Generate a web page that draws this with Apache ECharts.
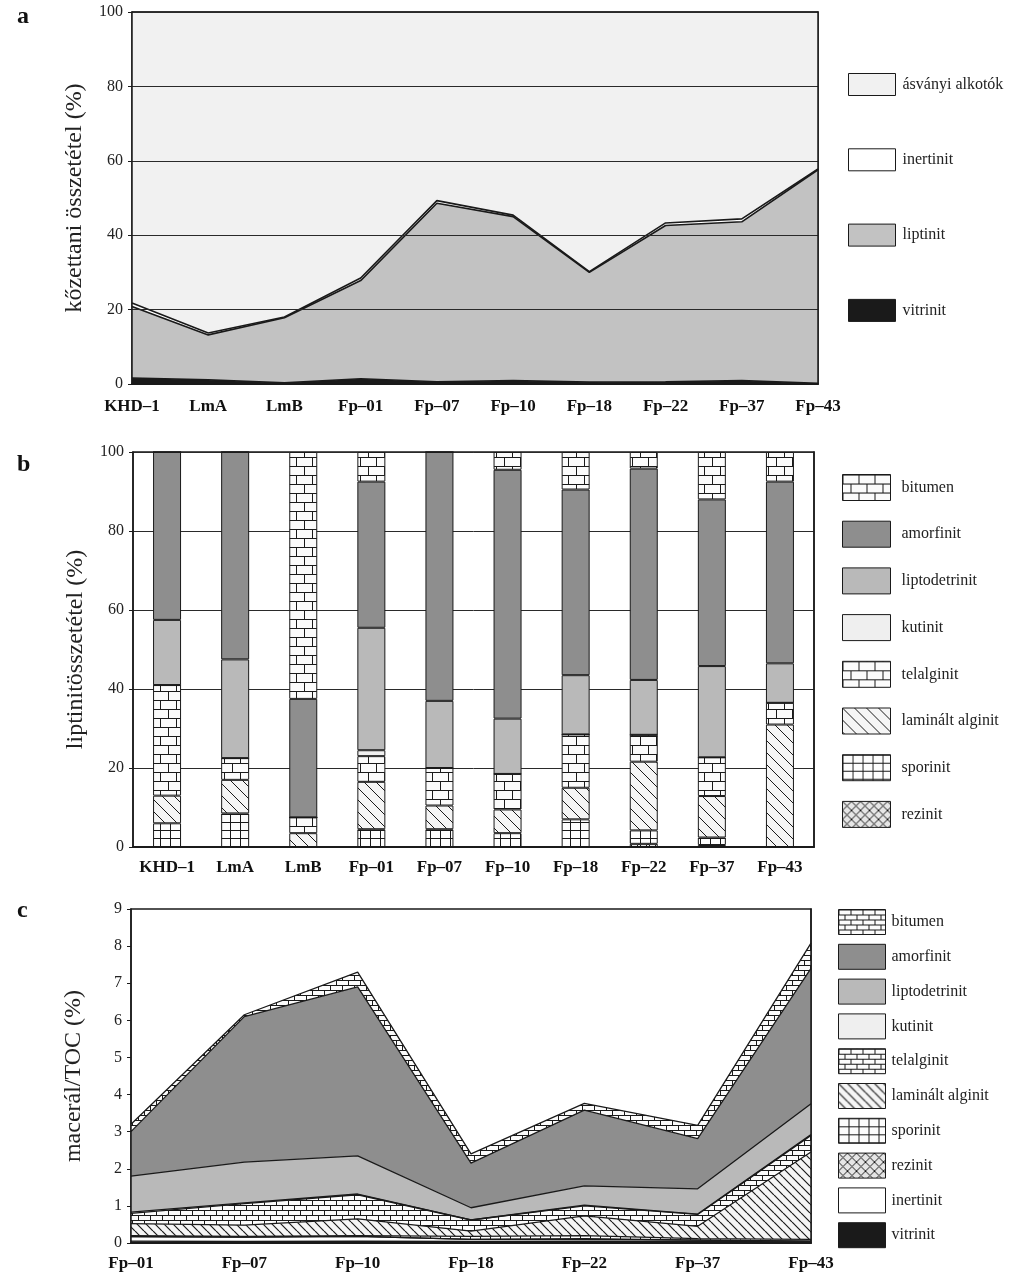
<!DOCTYPE html>
<html><head><meta charset="utf-8">
<script src="https://cdn.jsdelivr.net/npm/echarts@6/dist/echarts.min.js"></script>
<style>
html,body{margin:0;padding:0;background:#fff;width:1024px;height:1286px;overflow:hidden;}
.p{position:absolute;left:0;width:1024px;}
#a{top:0;height:430px;}
#b{top:430px;height:450px;}
#c{top:880px;height:406px;}
</style></head><body>
<div id="a" class="p"></div><div id="b" class="p"></div><div id="c" class="p"></div>
<script>
// ---------- DATA ----------
const catsAB = ['KHD–1','LmA','LmB','Fp–01','Fp–07','Fp–10','Fp–18','Fp–22','Fp–37','Fp–43'];
const catsC = ['Fp–01','Fp–07','Fp–10','Fp–18','Fp–22','Fp–37','Fp–43'];

// panel a: kőzettani összetétel (%)
const aVitrinit = [1.6,1.1,0.3,1.4,0.6,0.9,0.5,0.6,0.9,0.2];
const aLiptinit = [19.2,12.1,17.5,26.4,48.0,44.1,29.5,42.0,42.7,57.4];
const aInertinit = [1.0,0.5,0.2,0.7,0.7,0.4,0.2,0.7,0.8,0.2];
const aAsvanyi = [78.2,86.3,82.0,71.5,50.7,54.6,69.8,56.7,55.6,42.2];
const ticksA = [0,20,40,60,80,100];

// panel b: liptinitösszetétel (%)
const bRezinit = [0,0,0,0,0,0,0,0.8,0.5,0];
const bSporinit = [6,8.5,0,4.5,4.5,3.5,7,3.4,1.9,0];
const bLaminalt = [7,8.5,3.5,12,6,6,8,17.4,10.5,31];
const bTelalginit = [28,5.5,4,6.5,9.5,9,13.5,6.8,9.8,5.5];
const bKutinit = [0,0,0,1.5,0,0,0,0,0,0];
const bLiptodetrinit = [16.5,25,0,31,17,14,15,13.9,23.1,10];
const bAmorfinit = [42.5,52.5,30,37,63,63,47,53.5,42.2,46];
const bBitumen = [0,0,62.5,7.5,0,4.5,9.5,4.2,12,7.5];

// panel c: macerál/TOC (%)
const cVitrinit = [0.05,0.04,0.05,0.04,0.05,0.04,0.03];
const cInertinit = [0.12,0.12,0.13,0.06,0.05,0.04,0.02];
const cRezinit = [0,0,0,0,0.02,0,0];
const cSporinit = [0.03,0.02,0.02,0.08,0.08,0.04,0.05];
const cLaminalt = [0.32,0.3,0.45,0.14,0.53,0.33,2.35];
const cTelalginit = [0.28,0.58,0.65,0.3,0.27,0.32,0.45];
const cKutinit = [0.03,0.02,0.02,0,0.02,0.01,0.02];
const cLiptodetrinit = [0.97,1.1,1.03,0.33,0.52,0.68,0.83];
const cAmorfinit = [1.2,3.92,4.55,1.2,2.04,1.35,3.65];
const cBitumen = [0.2,0.05,0.4,0.25,0.18,0.36,0.68];

// ---------- STYLE ----------
const SERIF = "'Liberation Serif','Times New Roman',serif";
const INK = '#1a1a1a';
const C_AMORF = '#8e8e8e', C_LIPTO = '#b9b9b9', C_KUT = '#efefef', C_LIPT_A = '#c2c2c2', C_ASV = '#f1f1f1';

function cv(w,h,bg){const c=document.createElement('canvas');c.width=w;c.height=h;const g=c.getContext('2d');g.fillStyle=bg;g.fillRect(0,0,w,h);g.strokeStyle=INK;g.lineWidth=1;return [c,g];}
function pat(c){return {image:c,repeat:'repeat'};}
function brick(w,h){const [c,g]=cv(w,h,'#fbfbfb');const r=h/2;g.beginPath();
  g.moveTo(0,0.5);g.lineTo(w,0.5);g.moveTo(0,r+0.5);g.lineTo(w,r+0.5);
  g.moveTo(0.5,0);g.lineTo(0.5,r);g.moveTo(Math.round(w/2)+0.5,r);g.lineTo(Math.round(w/2)+0.5,h);g.stroke();return pat(c);}
function hatch(s,lw){const [c,g]=cv(s,s,'#f5f5f5');g.lineWidth=lw||1;g.beginPath();
  for(const o of [-s,0,s]){g.moveTo(o,0);g.lineTo(o+s,s);}g.stroke();return pat(c);}
function gridp(w,h){const [c,g]=cv(w,h,'#fdfdfd');g.beginPath();
  g.moveTo(0.5,0);g.lineTo(0.5,h);g.moveTo(0,0.5);g.lineTo(w,0.5);g.stroke();return pat(c);}
function cross(s){const [c,g]=cv(s,s,'#e6e6e6');g.beginPath();
  for(const o of [-s,0,s]){g.moveTo(o,0);g.lineTo(o+s,s);g.moveTo(o+s,0);g.lineTo(o,s);}g.stroke();return pat(c);}

function yAxisBase(name,max,interval,split){
  return {type:'value',min:0,max:max,interval:interval,z:5,
    name:name,nameLocation:'middle',nameGap:45,nameRotate:90,
    nameTextStyle:{fontFamily:SERIF,fontSize:24,color:'#222'},
    axisLine:{show:true,lineStyle:{color:INK,width:1.5}},
    axisTick:{show:true,inside:false,length:4,lineStyle:{color:INK}},
    axisLabel:{fontFamily:SERIF,fontSize:16,color:'#222',margin:9},
    splitLine:{show:split,lineStyle:{color:'#2a2a2a',width:1}}};
}
function frameAxes(cats){
  return {x:{type:'category',data:cats,position:'top',boundaryGap:false,z:5,axisLine:{show:true,lineStyle:{color:INK,width:1.5}},axisTick:{show:false},axisLabel:{show:false}},
          y:{type:'value',position:'right',min:0,max:100,z:5,axisLine:{show:true,lineStyle:{color:INK,width:1.5}},axisTick:{show:false},axisLabel:{show:false},splitLine:{show:false}}};
}
function legendBase(left,top,w,h,gap,pad,names){
  return {orient:'vertical',left:left,top:top,itemWidth:w,itemHeight:h,itemGap:gap,icon:'rect',selectedMode:false,
    itemStyle:{borderColor:INK,borderWidth:1},
    textStyle:{fontFamily:SERIF,fontSize:16,color:'#222',padding:[0,0,0,pad]},data:names};
}
function title(t,top){return {text:t,left:12,top:top,textStyle:{fontFamily:SERIF,fontWeight:'bold',fontSize:24,color:'#111'}};}

// ---------- PANEL A ----------
(function(){
  const ch = echarts.init(document.getElementById('a'),null,{renderer:'canvas'});
  const fr = frameAxes(catsAB);
  function area(name,data,color){return {name:name,type:'line',stack:'a',data:data,symbol:'none',
    itemStyle:{color:color},lineStyle:{color:INK,width:1.6},areaStyle:{color:color,opacity:1}};}
  ch.setOption({animation:false,
    title:title('a',0),
    grid:{left:132,top:12,width:686,height:372,show:true,borderColor:INK,borderWidth:1.5,outerBoundsMode:'none'},
    xAxis:[{type:'category',data:catsAB,boundaryGap:false,z:5,axisLine:{show:true,lineStyle:{color:INK,width:1.5}},axisTick:{show:false},
      axisLabel:{interval:0,fontFamily:SERIF,fontWeight:'bold',fontSize:17,color:'#111',margin:14}},fr.x],
    yAxis:[yAxisBase('kőzettani összetétel (%)',100,20,true),fr.y],
    legend:legendBase(843,68,47,22,52.3,2,['ásványi alkotók','inertinit','liptinit','vitrinit']),
    series:[area('vitrinit',aVitrinit,INK),area('liptinit',aLiptinit,C_LIPT_A),area('inertinit',aInertinit,'#ffffff'),area('ásványi alkotók',aAsvanyi,C_ASV)]
  });
})();

// ---------- PANEL B ----------
(function(){
  const ch = echarts.init(document.getElementById('b'));
  const P = {bitumen:brick(16,18),telalginit:brick(16,18),laminalt:hatch(12),sporinit:gridp(10,8),rezinit:cross(9)};
  function bar(name,data,color){return {name:name,type:'bar',stack:'b',data:data,barWidth:28,
    itemStyle:{color:color,borderColor:INK,borderWidth:1}};}
  const fr = frameAxes(catsAB);
  fr.x.boundaryGap = true;
  ch.setOption({animation:false,
    title:title('b',18),
    grid:{left:133,top:22,width:681,height:395,show:true,borderColor:INK,borderWidth:1.5,outerBoundsMode:'none'},
    xAxis:[{type:'category',data:catsAB,z:5,axisLine:{show:true,lineStyle:{color:INK,width:1.5}},axisTick:{show:false},
      axisLabel:{interval:0,fontFamily:SERIF,fontWeight:'bold',fontSize:17,color:'#111',margin:12}},fr.x],
    yAxis:[Object.assign(yAxisBase('liptinitösszetétel (%)',100,20,true),{z:1}),fr.y],
    legend:legendBase(837,39,48,26,19.7,6,['bitumen','amorfinit','liptodetrinit','kutinit','telalginit','laminált alginit','sporinit','rezinit']),
    series:[bar('rezinit',bRezinit,P.rezinit),bar('sporinit',bSporinit,P.sporinit),bar('laminált alginit',bLaminalt,P.laminalt),
      bar('telalginit',bTelalginit,P.telalginit),bar('kutinit',bKutinit,C_KUT),bar('liptodetrinit',bLiptodetrinit,C_LIPTO),
      bar('amorfinit',bAmorfinit,C_AMORF),bar('bitumen',bBitumen,P.bitumen)]
  });
})();

// ---------- PANEL C ----------
(function(){
  const ch = echarts.init(document.getElementById('c'));
  const P = {bitumen:brick(12,10),telalginit:brick(12,10),laminalt:hatch(9,1.2),sporinit:gridp(10,8),rezinit:cross(9)};
  function area(name,data,color){return {name:name,type:'line',stack:'c',data:data,symbol:'none',
    itemStyle:{color:color},lineStyle:{color:INK,width:1.3},areaStyle:{color:color,opacity:1}};}
  const fr = frameAxes(catsC);
  fr.y.max = 9;
  ch.setOption({animation:false,
    title:title('c',14),
    grid:{left:131,top:29,width:680,height:334,show:true,borderColor:INK,borderWidth:1.5,outerBoundsMode:'none'},
    xAxis:[{type:'category',data:catsC,boundaryGap:false,z:5,axisLine:{show:true,lineStyle:{color:INK,width:1.5}},axisTick:{show:false},
      axisLabel:{interval:0,fontFamily:SERIF,fontWeight:'bold',fontSize:17,color:'#111',margin:12}},fr.x],
    yAxis:[yAxisBase('macerál/TOC (%)',9,1,false),fr.y],
    legend:legendBase(833,24,47,25,8.8,1,['bitumen','amorfinit','liptodetrinit','kutinit','telalginit','laminált alginit','sporinit','rezinit','inertinit','vitrinit']),
    series:[area('vitrinit',cVitrinit,INK),area('inertinit',cInertinit,'#ffffff'),area('rezinit',cRezinit,P.rezinit),
      area('sporinit',cSporinit,P.sporinit),area('laminált alginit',cLaminalt,P.laminalt),area('telalginit',cTelalginit,P.telalginit),
      area('kutinit',cKutinit,C_KUT),area('liptodetrinit',cLiptodetrinit,C_LIPTO),area('amorfinit',cAmorfinit,C_AMORF),
      area('bitumen',cBitumen,P.bitumen)]
  });
})();
</script>
</body></html>
